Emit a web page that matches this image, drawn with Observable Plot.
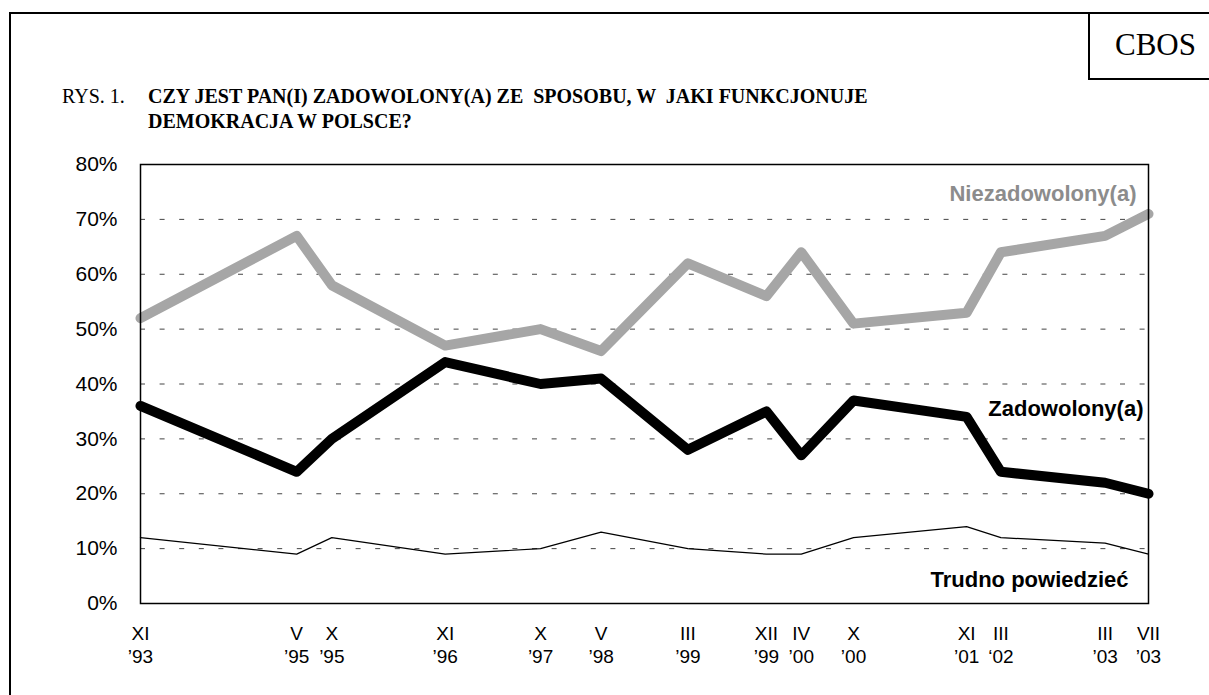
<!DOCTYPE html>
<html>
<head>
<meta charset="utf-8">
<script src="https://cdn.jsdelivr.net/npm/d3@7"></script>
<script src="https://cdn.jsdelivr.net/npm/@observablehq/plot@0.6"></script>
<style>
  html, body { margin: 0; padding: 0; background: #fff; overflow: hidden; }
  #page { position: relative; width: 1209px; height: 695px; overflow: hidden; background: #fff; }
  #frame { position: absolute; left: 9px; top: 12px; width: 1300px; height: 800px; border: 2px solid #000; }
  #cbos { position: absolute; left: 1088px; top: 12px; width: 200px; height: 64px; border: 2px solid #000; }
  #cbosText { position: absolute; left: 1115px; top: 29px; font: 31px/31px "Liberation Serif", "Times New Roman", serif; color: #000; }
  .title { position: absolute; top: 84px; font: 20px/25px "Liberation Serif", "Times New Roman", serif; color: #000; white-space: pre; }
  #rys { left: 62px; }
  #question { left: 148px; font-weight: bold; }
  #chart { position: absolute; left: 0; top: 140px; }
</style>
</head>
<body>
<div id="page">
  <div id="frame"></div>
  <div id="cbos"></div>
  <div id="cbosText">CBOS</div>
  <div class="title" id="rys">RYS. 1.</div>
  <div class="title" id="question">CZY JEST PAN(I) ZADOWOLONY(A) ZE  SPOSOBU, W  JAKI FUNKCJONUJE
DEMOKRACJA W POLSCE?</div>
  <div id="chart"></div>
</div>
<script>
// ---- data ----
const surveyDates = ["1993-11-30","1995-05-31","1995-10-01","1996-11-01","1997-10-01","1998-05-01",
                     "1999-03-01","1999-12-01","2000-04-01","2000-10-01","2001-11-01","2002-03-01",
                     "2003-03-01","2003-07-31"];
const monthLabels = ["XI","V","X","XI","X","V","III","XII","IV","X","XI","III","III","VII"];
const yearLabels  = ["’93","’95","’95","’96","’97","’98","’99","’99","’00","’00","’01","‘02","’03","’03"];
const zadowoleni    = [36, 24, 30, 44, 40, 41, 28, 35, 27, 37, 34, 24, 22, 20];
const niezadowoleni = [52, 67, 58, 47, 50, 46, 62, 56, 64, 51, 53, 64, 67, 71];
const trudno        = [12,  9, 12,  9, 10, 13, 10,  9,  9, 12, 14, 12, 11,  9];
const seriesNames = ["Zadowolony(a)", "Niezadowolony(a)", "Trudno powiedzieć"];
const yTicks = [0, 10, 20, 30, 40, 50, 60, 70, 80];
const gridTicks = [10, 20, 30, 40, 50, 60, 70];

// ---- build ----
const parse = d3.utcParse("%Y-%m-%d");
const rows = surveyDates.map((d, i) => ({
  date: parse(d), zad: zadowoleni[i], niez: niezadowoleni[i], tp: trudno[i],
  label: monthLabels[i] + "\n" + yearLabels[i]
}));
const tickLabel = new Map(rows.map(r => [+r.date, r.label]));
const last = rows[rows.length - 1];

const chart = Plot.plot({
  width: 1209,
  height: 545,
  marginTop: 24,
  marginBottom: 82,
  marginLeft: 140,
  marginRight: 61,
  style: { fontFamily: "'Liberation Sans', Arial, sans-serif", background: "transparent", overflow: "visible", color: "#000" },
  x: { type: "utc", domain: d3.extent(rows, r => r.date) },
  y: { domain: [0, 80] },
  marks: [
    Plot.gridY(gridTicks, { stroke: "#444", strokeOpacity: 1, strokeWidth: 1, strokeDasharray: "5,14.6" }),
    Plot.line(rows, { x: "date", y: "tp", stroke: "#000", strokeWidth: 1.2 }),
    Plot.line(rows, { x: "date", y: "niez", stroke: "#a6a6a6", strokeWidth: 10, strokeLinejoin: "round", strokeLinecap: "round" }),
    Plot.line(rows, { x: "date", y: "zad", stroke: "#000", strokeWidth: 10, strokeLinejoin: "round", strokeLinecap: "round" }),
    Plot.frame({ stroke: "#000", strokeWidth: 1.5 }),
    Plot.axisY(yTicks, { tickSize: 0, tickPadding: 23, tickFormat: d => d + "%", fontSize: 21, label: null }),
    Plot.axisX(rows.map(r => r.date), { tickSize: 0, tickPadding: 19, tickFormat: d => tickLabel.get(+d), fontSize: 19, lineHeight: 1.26, label: null }),
    Plot.text([last], { x: "date", y: "niez", text: () => seriesNames[1], textAnchor: "end", dx: -12, dy: -19.5, fill: "#8c8c8c", fontWeight: "bold", fontSize: 22 }),
    Plot.text([last], { x: "date", y: "zad", text: () => seriesNames[0], textAnchor: "end", dx: -5, dy: -85, fill: "#000", fontWeight: "bold", fontSize: 22 }),
    Plot.text([last], { x: "date", y: "tp", text: () => seriesNames[2], textAnchor: "end", dx: -20, dy: 26, fill: "#000", fontWeight: "bold", fontSize: 22 })
  ]
});
document.getElementById("chart").appendChild(chart);
</script>
</body>
</html>
